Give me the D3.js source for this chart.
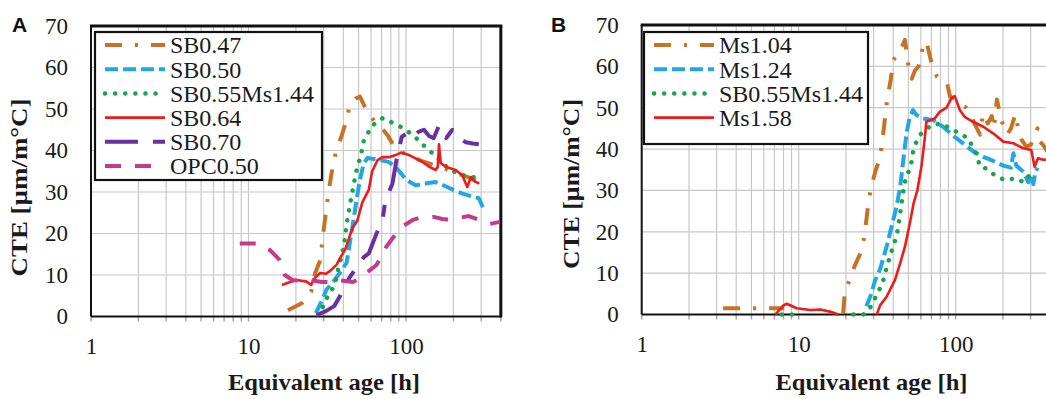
<!DOCTYPE html>
<html>
<head>
<meta charset="utf-8">
<script src="https://cdn.jsdelivr.net/npm/d3@7"></script>
<style>
  body { margin: 0; background: #fff; }
  svg { display: block; font-family: "Liberation Serif", "Times New Roman", serif; }
</style>
</head>
<body>
<script>
// ---- data: [equivalent age (h), CTE (µm/m°C)], null = gap in the record ----
// panel A
const sb047 = [[17.8,1.5],[21.8,3.2],[25,6],[26.5,10.5],[28.5,13.5],[29.3,17.5],[30.5,23],[32,29],[33.5,34],[36,40],[39,43.5],[42,47.5],[44,51],[48,52.5],[51,53],[54,51],[57,49.5],[63,47],[70,45.5],[77,43.5],[84,41],[95,39.5],[110,38.5],[125,37.5],[150,36.5],[180,35.5],[210,34.5],[250,33.5],[280,32.5],[300,34]];
const sb050 = [[26.8,0.8],[29,3.6],[31.3,6.5],[34.4,8.3],[38,10.5],[42,13],[45,20],[48.5,28],[51,33],[54,37],[57,38.2],[61,38],[69,37.7],[78,37.2],[86,36],[93,34.5],[100,33],[115,31.6],[130,32],[154,32.4],[175,31.5],[200,30.5],[228,29.6],[260,29],[290,28.5],[310,26]];
const sb055A = [[29.6,2.3],[31.5,4.5],[34.4,6.9],[36,9],[37,11.2],[38.6,14],[40,16.5],[41,19],[42,22.4],[44.6,28],[48,34.5],[52,39.3],[54,42.5],[61,46],[71,47.8],[81,46.8],[96,45.4],[114,43.3],[132,40.9],[156,38.5],[190,35.3],[243,33.7],[280,33.5]];
const sb064 = [[16.3,7.6],[18,8.2],[20.2,8.8],[23.4,8.4],[25,7.6],[26,9],[28.5,10.5],[31,10.3],[33,11],[36.3,12.5],[38,14],[41,16],[44,19.5],[46,21.5],[49,23],[52.8,27.5],[58,30.5],[61,35],[66,37.7],[70.7,38.4],[78,38.4],[86,38.9],[93,39.5],[104.5,38.9],[115,38.1],[127,37.3],[140,36.1],[154,35.3],[159,36],[162,41.5],[166,37],[180,36],[207,35.3],[228,34],[245,31.2],[258,33.6],[275,32.5],[292,32]];
const sb070 = [[27,0.3],[31,1.3],[35,2.5],[38,4.8],[41,7.5],[44,9.5],[48,11.5],[54,14.3],[58,15.2],[65,20],[71,23.3],[74,28],[82,32],[87,37.7],[94,43.3],[100,44],[110,43],[120,44.5],[130,45],[140,43.5],[150,43],[162,46],[172,44.5],[180,43],[197,45],[215,43],[240,42],[265,41.7],[290,41.5]];
const opc050 = [[8.8,17.6],[11.3,17.6],[13.7,16],[15.8,13.6],[17,10],[19,8.8],[22,8.5],[24.6,8.8],[29.2,8.3],[33,8.3],[37,8.8],[46,8.3],[50,9],[56,10.5],[65,12.4],[75,16.8],[85,19.6],[94,21.6],[111,23.3],[120,23.7],[150,24],[170,23.5],[195,23.3],[220,23.8],[250,24.2],[280,23.5],[300,23],[340,22.3],[395,22.8]];

// panel B
const ms104 = [[3.3,1.5],[5,1.5],[6.7,1.5],[8.1,1.5],null,[19.2,0.3],[19.7,5.9],[21.2,8.4],[22.7,11.7],[25.2,15.5],[26.2,19],[27,23],[28,28],[29.5,32],[31,35],[33,38],[34.6,44],[36.6,52],[38.5,56.6],[40,61.5],[44,63.5],[47.5,66.4],[50,60],[52.5,57],[55,59],[58,60],[62.6,65.5],[65,66],[68,63],[71,60],[76,57.5],[82,56.5],[88,56],[92,52.7],[100,52],[110,50.5],[117,50],[123,49],[130,46.6],[143,43.5],[149,48.6],[160,46.2],[170,48],[175,45],[183,52],[195,47],[213,43.5],[225,45],[240,48.5],[250,45],[263,42.2],[282,40.6],[300,41],[320,43],[332,45],[340,42],[360,41],[390,39]];
const ms124 = [[27,2],[29,5],[30.5,8],[33,11],[36.3,16.4],[39,21.2],[42,26],[44.3,30.9],[46.4,37.4],[48.6,43.8],[51,47.8],[53.5,49.4],[56,48.3],[62,47.4],[72,47],[83,45.4],[96,43.3],[112,41.3],[130,39.4],[150,38.1],[172,37.2],[201,36],[225,35.5],[233,39],[243,36],[270,34.5],[290,32],[305,33.5],[312,31.5],[322,34.5],[333,35.5]];
const sb055B = [[7.8,0],[9.2,0],null,[22.3,0],[25.8,0],[28.5,1.6],[30.6,3.9],[33,6.4],[34.9,8.7],[36.3,11.3],[38.2,14.2],[40.1,16.6],[42.1,19],[43.1,21.5],[44.2,24.3],[45.3,27.1],[46.4,29.9],[47.5,32.1],[50,34.5],[52.4,37],[53.5,39.4],[57,42.5],[60.5,43.8],[70,45.8],[81,46.2],[92,45],[106,43.8],[120,42.6],[136,38.6],[143,35.7],[157,35.3],[177,33.7],[205,32.5],[243,32.9],[270,32],[300,34],[312,33]];
const ms158 = [[7.1,0],[8,2.2],[8.4,2.6],[9.7,1.5],[11.8,1.1],[13.7,1.2],[15.8,0.7],[17.9,0],null,[31.4,0],[33,2.2],[36.3,4.3],[41,8.3],[44.2,12.3],[47.5,16.4],[51,22],[54,27],[57,30],[60.6,36],[63.7,43],[65,46.6],[73.5,47.4],[79,49],[87.5,50],[94,52.3],[98.7,52.8],[106,49.5],[114,47.8],[129,46.6],[150,45.4],[173,43.8],[201,41.8],[233,41.4],[269,40.2],[303,39.8],[318,35.7],[334,37.8],[361,37.4],[390,37.5]];

const namesA = ["SB0.47", "SB0.50", "SB0.55Ms1.44", "SB0.64", "SB0.70", "OPC0.50"];
const namesB = ["Ms1.04", "Ms1.24", "SB0.55Ms1.44", "Ms1.58"];
const yTicks = [0, 10, 20, 30, 40, 50, 60, 70];
const xTicks = [1, 10, 100];
const xTitle = "Equivalent age [h]";
const yTitle = "CTE [µm/m°C]";

// line styles
const brown   = { color: "#c67423", dash: "17,13,3,13", width: 4 };
const blue    = { color: "#22a7e4", dash: "13,5", width: 4 };
const green   = { color: "#18a64a", dash: "0.1,10", width: 4.5, cap: "round" };
const red     = { color: "#ee1b1b", dash: null, width: 2.6 };
const purple  = { color: "#6a2fa2", dash: "33,15,12,15", width: 4 };
const magenta = { color: "#c23b8f", dash: "16,14", width: 4 };

const svg = d3.select("body").append("svg").attr("width", 1046).attr("height", 399);

// minor grid positions of a log axis 1..400
const gridX = [];
for (let dec = 1; dec <= 100; dec *= 10) {
  for (let k = 1; k <= 9; k++) if (k * dec <= 400) gridX.push(k * dec);
}

function drawPanel(p) {
  const x = d3.scaleLog().domain([1, 400]).range([p.left, p.left + p.decade * Math.log10(400)]);
  const y = d3.scaleLinear().domain([0, 70]).range([p.bottom, p.top]);
  const g = svg.append("g");

  // gridlines
  g.selectAll(".vg").data(gridX.slice(1)).join("line")
    .attr("x1", d => x(d)).attr("x2", d => x(d))
    .attr("y1", p.top).attr("y2", p.bottom)
    .attr("stroke", "#c8c8c8").attr("stroke-width", 1.2);
  g.selectAll(".hg").data(yTicks.slice(1, -1)).join("line")
    .attr("x1", p.left).attr("x2", x(400))
    .attr("y1", d => y(d)).attr("y2", d => y(d))
    .attr("stroke", "#c8c8c8").attr("stroke-width", 1.2);

  // little ticks under the x axis
  g.selectAll(".mt").data(gridX).join("line")
    .attr("x1", d => x(d)).attr("x2", d => x(d))
    .attr("y1", p.bottom).attr("y2", p.bottom + 5)
    .attr("stroke", "#a8a8a8").attr("stroke-width", 1.5);

  // axes text
  const yAxis = g.append("g").attr("transform", `translate(${p.left},0)`)
    .call(d3.axisLeft(y).tickValues(yTicks).tickSize(0).tickPadding(23));
  const xAxis = g.append("g").attr("transform", `translate(0,${p.bottom})`)
    .call(d3.axisBottom(x).tickValues(xTicks).tickFormat(d3.format("d")).tickSize(0).tickPadding(21));
  [yAxis, xAxis].forEach(a => {
    a.select(".domain").remove();
    a.selectAll("text").attr("font-family", "Liberation Serif, serif").attr("font-size", 23).attr("fill", "#1a1a1a");
  });

  // frame
  g.append("line").attr("x1", p.left).attr("x2", p.left).attr("y1", p.top).attr("y2", p.bottom).attr("stroke", "#111").attr("stroke-width", 2);
  g.append("line").attr("x1", p.left).attr("x2", x(400)).attr("y1", p.bottom).attr("y2", p.bottom).attr("stroke", "#111").attr("stroke-width", 2);
  g.append("line").attr("x1", p.left - 1).attr("x2", x(400) + 1.5).attr("y1", p.top).attr("y2", p.top).attr("stroke", "#111").attr("stroke-width", 3);
  g.append("line").attr("x1", x(400)).attr("x2", x(400)).attr("y1", p.top).attr("y2", p.bottom + 1).attr("stroke", "#111").attr("stroke-width", 3);

  // curves
  const line = d3.line().defined(d => d !== null).x(d => x(d[0])).y(d => y(d[1])).curve(d3.curveLinear);
  p.series.forEach(s => {
    g.append("path").datum(s.data)
      .attr("fill", "none")
      .attr("stroke", s.style.color)
      .attr("stroke-width", s.style.width)
      .attr("stroke-dasharray", s.style.dash)
      .attr("stroke-linecap", s.style.cap || "butt")
      .attr("stroke-linejoin", "round")
      .attr("d", line);
  });

  // legend
  const L = p.legend;
  const lg = g.append("g");
  lg.append("rect").attr("x", L.x).attr("y", L.y).attr("width", L.w).attr("height", L.h)
    .attr("fill", "#fff").attr("stroke", "#111").attr("stroke-width", 2.2);
  p.series.forEach((s, i) => {
    const cy = L.y + 13 + i * 24.2;
    lg.append("line").attr("x1", L.x + 10).attr("x2", L.x + 70).attr("y1", cy).attr("y2", cy)
      .attr("stroke", s.style.color).attr("stroke-width", s.style.width)
      .attr("stroke-dasharray", s.style.dash).attr("stroke-linecap", s.style.cap || "butt");
    lg.append("text").attr("x", L.x + 75).attr("y", cy).attr("dy", "0.35em")
      .attr("font-size", 24).attr("fill", "#1a1a1a").text(s.name);
  });

  // titles
  g.append("text").attr("x", p.xTitleX).attr("y", 390).attr("text-anchor", "middle")
    .attr("font-size", 24).attr("font-weight", "bold").attr("fill", "#1a1a1a")
    .attr("textLength", 192).attr("lengthAdjust", "spacingAndGlyphs").text(xTitle);
  g.append("text").attr("transform", `translate(${p.yTitleX},${p.yTitleY}) rotate(-90)`)
    .attr("text-anchor", "middle").attr("dy", "0.35em")
    .attr("font-size", 24).attr("font-weight", "bold").attr("fill", "#1a1a1a")
    .attr("textLength", p.yTitleLen).attr("lengthAdjust", "spacingAndGlyphs").text(yTitle);
  g.append("text").attr("x", p.tagX).attr("y", 32)
    .attr("font-family", "Liberation Sans, Arial, sans-serif").attr("font-weight", "bold")
    .attr("font-size", 21).attr("fill", "#111").text(p.tag);
}

drawPanel({
  tag: "A", tagX: 12, left: 91, decade: 157.5, top: 26, bottom: 316.5,
  xTitleX: 324, yTitleX: 19, yTitleY: 187.5, yTitleLen: 178,
  legend: { x: 95, y: 32, w: 227, h: 148 },
  series: [
    { name: namesA[0], data: sb047, style: brown },
    { name: namesA[1], data: sb050, style: blue },
    { name: namesA[2], data: sb055A, style: green },
    { name: namesA[3], data: sb064, style: red },
    { name: namesA[4], data: sb070, style: purple },
    { name: namesA[5], data: opc050, style: magenta }
  ]
});

drawPanel({
  tag: "B", tagX: 551, left: 641.7, decade: 157, top: 25, bottom: 314.5,
  xTitleX: 871.5, yTitleX: 570.5, yTitleY: 184, yTitleLen: 170,
  legend: { x: 644, y: 32, w: 224, h: 112 },
  series: [
    { name: namesB[0], data: ms104, style: brown },
    { name: namesB[1], data: ms124, style: blue },
    { name: namesB[2], data: sb055B, style: green },
    { name: namesB[3], data: ms158, style: red }
  ]
});
</script>
</body>
</html>
